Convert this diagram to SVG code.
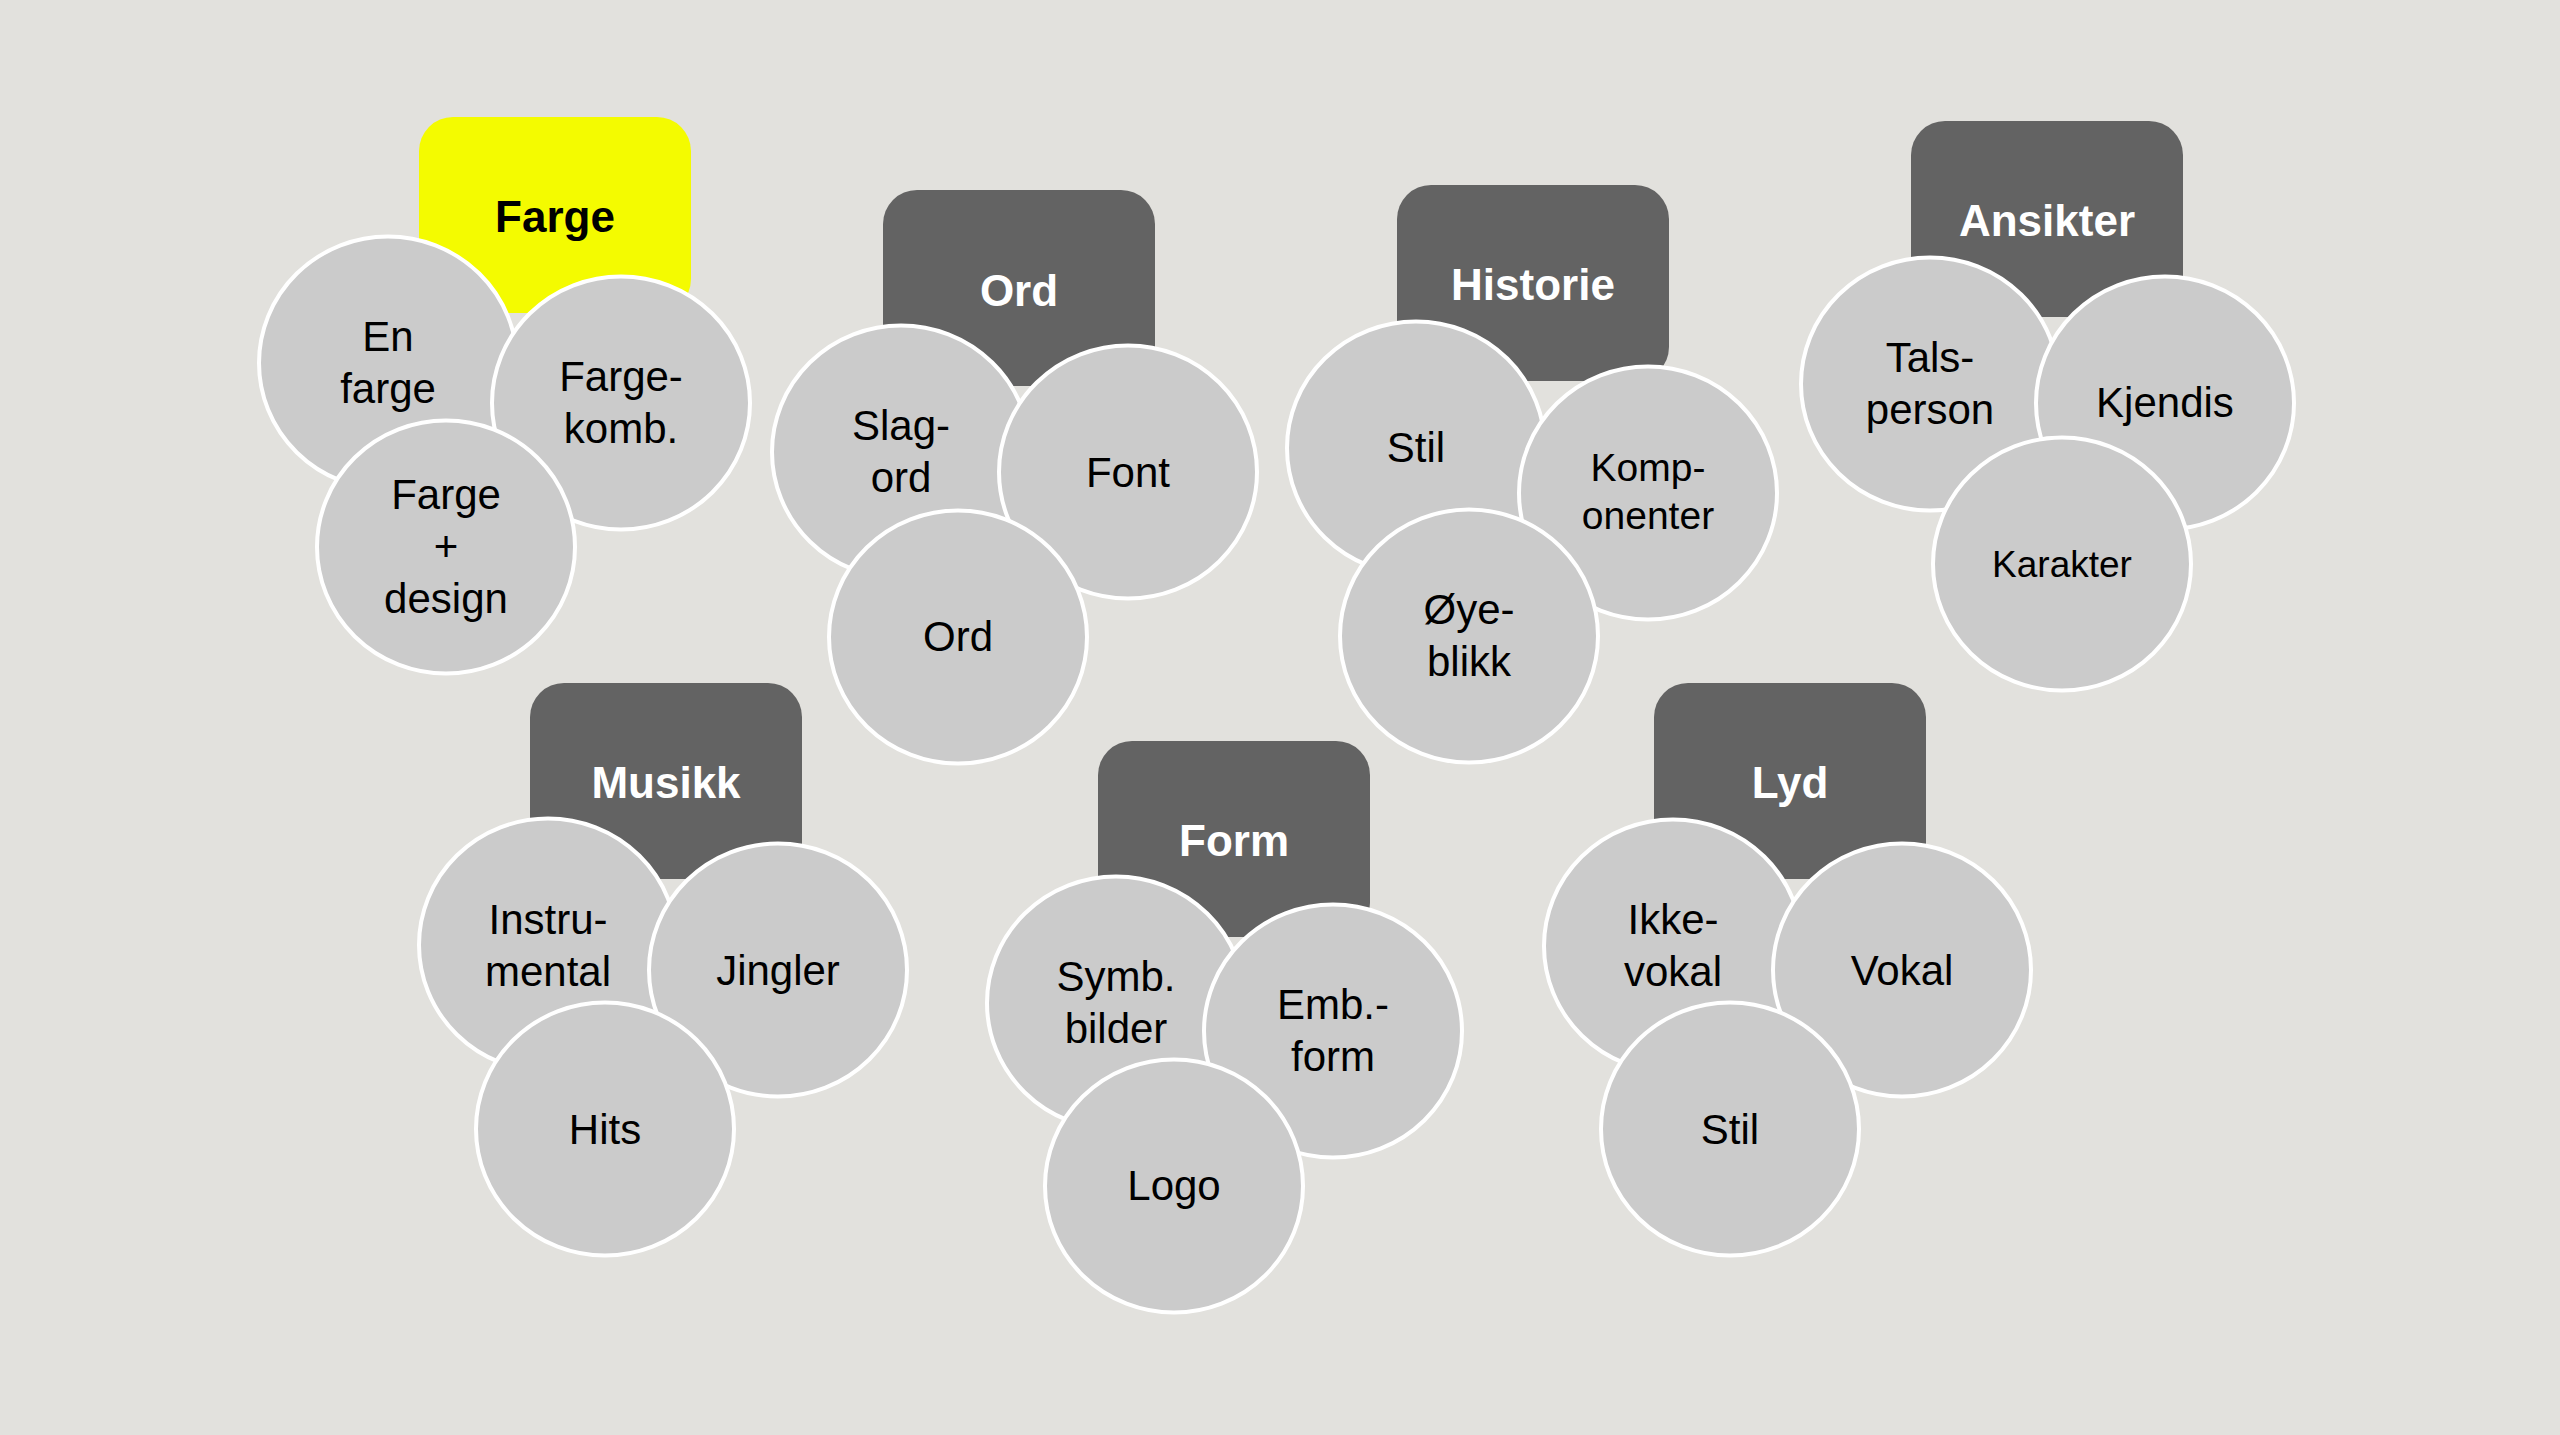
<svg xmlns="http://www.w3.org/2000/svg" width="2560" height="1435" viewBox="0 0 2560 1435">
<style>
.bg{fill:#E2E1DD}
.box{fill:#636363}
.box.y{fill:#F4FB00}
.title{font-family:"Liberation Sans",Arial,Helvetica,sans-serif;font-weight:bold;font-size:44px;fill:#FFFFFF;text-anchor:middle}
.title.k{fill:#000000}
.c{fill:#CBCBCB;stroke:#FFFFFF;stroke-width:4}
.t{font-family:"Liberation Sans",Arial,Helvetica,sans-serif;font-size:42px;fill:#000000;text-anchor:middle}
.s39{font-size:39px}
.s37{font-size:37px}
</style>
<rect class="bg" x="0" y="0" width="2560" height="1435"/>
<g id="connectors"/>

<g id="farge">
  <g id="farge-title"><rect class="box y" x="419" y="117" width="272" height="196" rx="34"/><text class="title k" x="555" y="232">Farge</text></g>
  <g id="farge-en"><ellipse class="c" cx="388" cy="363" rx="129" ry="126.5"/><text class="t" x="388" y="351">En</text><text class="t" x="388" y="403">farge</text></g>
  <g id="farge-komb"><ellipse class="c" cx="621" cy="403" rx="129" ry="126.5"/><text class="t" x="621" y="391">Farge-</text><text class="t" x="621" y="443">komb.</text></g>
  <g id="farge-design"><ellipse class="c" cx="446" cy="547" rx="129" ry="126.5"/><text class="t" x="446" y="509">Farge</text><text class="t" x="446" y="561">+</text><text class="t" x="446" y="613">design</text></g>
</g>

<g id="ord">
  <g id="ord-title"><rect class="box" x="883" y="190" width="272" height="196" rx="34"/><text class="title" x="1019" y="306">Ord</text></g>
  <g id="ord-slagord"><ellipse class="c" cx="901" cy="452" rx="129" ry="126.5"/><text class="t" x="901" y="440">Slag-</text><text class="t" x="901" y="492">ord</text></g>
  <g id="ord-font"><ellipse class="c" cx="1128" cy="472" rx="129" ry="126.5"/><text class="t" x="1128" y="487">Font</text></g>
  <g id="ord-ord"><ellipse class="c" cx="958" cy="637" rx="129" ry="126.5"/><text class="t" x="958" y="651">Ord</text></g>
</g>

<g id="historie">
  <g id="historie-title"><rect class="box" x="1397" y="185" width="272" height="196" rx="34"/><text class="title" x="1533" y="300">Historie</text></g>
  <g id="historie-stil"><ellipse class="c" cx="1416" cy="448" rx="129" ry="126.5"/><text class="t" x="1416" y="462">Stil</text></g>
  <g id="historie-komp"><ellipse class="c" cx="1648" cy="493" rx="129" ry="126.5"/><text class="t s39" x="1648" y="481">Komp-</text><text class="t s39" x="1648" y="529">onenter</text></g>
  <g id="historie-oye"><ellipse class="c" cx="1469" cy="636" rx="129" ry="126.5"/><text class="t" x="1469" y="624">Øye-</text><text class="t" x="1469" y="676">blikk</text></g>
</g>

<g id="ansikter">
  <g id="ansikter-title"><rect class="box" x="1911" y="121" width="272" height="196" rx="34"/><text class="title" x="2047" y="236">Ansikter</text></g>
  <g id="ansikter-tals"><ellipse class="c" cx="1930" cy="384" rx="129" ry="126.5"/><text class="t" x="1930" y="372">Tals-</text><text class="t" x="1930" y="424">person</text></g>
  <g id="ansikter-kjendis"><ellipse class="c" cx="2165" cy="403" rx="129" ry="126.5"/><text class="t" x="2165" y="417">Kjendis</text></g>
  <g id="ansikter-karakter"><ellipse class="c" cx="2062" cy="564" rx="129" ry="126.5"/><text class="t s37" x="2062" y="577">Karakter</text></g>
</g>

<g id="musikk">
  <g id="musikk-title"><rect class="box" x="530" y="683" width="272" height="196" rx="34"/><text class="title" x="666" y="798">Musikk</text></g>
  <g id="musikk-instru"><ellipse class="c" cx="548" cy="945" rx="129" ry="126.5"/><text class="t" x="548" y="934">Instru-</text><text class="t" x="548" y="986">mental</text></g>
  <g id="musikk-jingler"><ellipse class="c" cx="778" cy="970" rx="129" ry="126.5"/><text class="t" x="778" y="985">Jingler</text></g>
  <g id="musikk-hits"><ellipse class="c" cx="605" cy="1129" rx="129" ry="126.5"/><text class="t" x="605" y="1144">Hits</text></g>
</g>

<g id="form">
  <g id="form-title"><rect class="box" x="1098" y="741" width="272" height="196" rx="34"/><text class="title" x="1234" y="856">Form</text></g>
  <g id="form-symb"><ellipse class="c" cx="1116" cy="1003" rx="129" ry="126.5"/><text class="t" x="1116" y="991">Symb.</text><text class="t" x="1116" y="1043">bilder</text></g>
  <g id="form-emb"><ellipse class="c" cx="1333" cy="1031" rx="129" ry="126.5"/><text class="t" x="1333" y="1019">Emb.-</text><text class="t" x="1333" y="1071">form</text></g>
  <g id="form-logo"><ellipse class="c" cx="1174" cy="1186" rx="129" ry="126.5"/><text class="t" x="1174" y="1200">Logo</text></g>
</g>

<g id="lyd">
  <g id="lyd-title"><rect class="box" x="1654" y="683" width="272" height="196" rx="34"/><text class="title" x="1790" y="798">Lyd</text></g>
  <g id="lyd-ikke"><ellipse class="c" cx="1673" cy="946" rx="129" ry="126.5"/><text class="t" x="1673" y="934">Ikke-</text><text class="t" x="1673" y="986">vokal</text></g>
  <g id="lyd-vokal"><ellipse class="c" cx="1902" cy="970" rx="129" ry="126.5"/><text class="t" x="1902" y="985">Vokal</text></g>
  <g id="lyd-stil"><ellipse class="c" cx="1730" cy="1129" rx="129" ry="126.5"/><text class="t" x="1730" y="1144">Stil</text></g>
</g>
</svg>
